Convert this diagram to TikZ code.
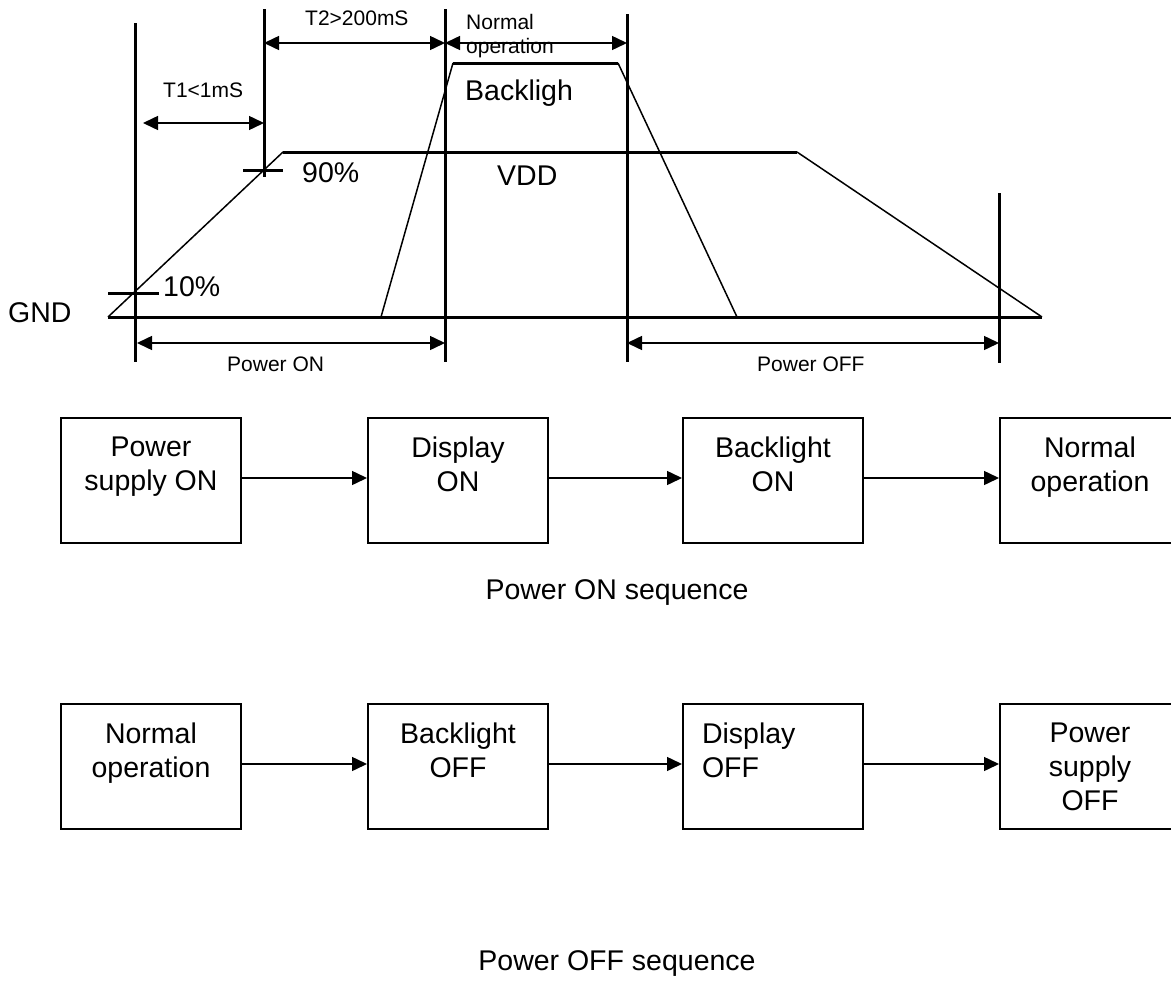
\documentclass[tikz,border=0pt]{standalone}
\usepackage{fontspec}
\setmainfont{Liberation Sans}
\usetikzlibrary{
  positioning,
  arrows.meta,
}
\newcommand\bigtxt{\fontsize{28.5}{34}\selectfont}
\newcommand\smalltxt{\fontsize{21}{23}\selectfont}
\newcommand\inbox[2][\centering]{\parbox[c][125pt][t]{180pt}{\vspace*{19pt}#1#2}}
\tikzset{
  vline/.style={line width=3pt},
  level/.style={line width=3pt},
  ramp/.style={line width=1.5pt},
  twohead/.style={line width=1.5pt,
    {Triangle[length=15pt,width=14pt]}-{Triangle[length=15pt,width=14pt]}},
  flow/.style={line width=1.5pt, -{Triangle[length=15pt,width=14pt]}},
  blk/.style={draw, line width=2pt, inner sep=0pt, anchor=north west, font=\bigtxt},
  tag/.style={inner sep=0pt, font=\bigtxt, anchor=base west},
  note/.style={inner sep=0pt, font=\smalltxt, anchor=base west},
}

\begin{document}
\begin{tikzpicture}[x=1pt, y=-1pt]
\clip (0,0) rectangle (1171,985);

% timing marks
\foreach \nm/\x/\ya/\yb in {m0/135/23/362, m1/264/9/177, m2/445/9/362,
                            m3/627/14/362, m4/999/193/363}
  \draw[vline] (\x,\ya) coordinate (\nm) -- (\x,\yb);

% GND, VDD and backlight
\draw[level] (108,317) -- (1042,317);
\draw[ramp] (108,317) -- (283,152) (797,152) -- (1042,317);
\draw[level] (283,152) -- (797,152);
\draw[ramp] (381,317) -- (453,63) (618,63) -- (737,317);
\draw[level] (453,63) -- (618,63);
\draw[level] (108,293) -- (159,293);
\draw[level] (243,170) -- (283,170);

\draw[twohead] ([xshift=8pt]m0 |- 0,123) -- (m1 |- 0,123);
\draw[twohead] (m1 |- 0,43) -- (m2 |- 0,43);
\draw[twohead] (m2 |- 0,43) -- (m3 |- 0,43);
\draw[twohead] ([xshift=2pt]m0 |- 0,343) -- (m2 |- 0,343);
\draw[twohead] (m3 |- 0,343) -- (m4 |- 0,343);

\node[tag] (gnd) at (8,322.7) {GND};
\node[tag] (p10) at (163,296) {10\%};
\node[tag] (p90) at (302,182) {90\%};
\node[tag] (bl) at (465,100) {Backligh};
\node[tag] (vdd) at (497,185) {VDD};
\node[note] (t1) at (163,97) {T1<1mS};
\node[note] (t2) at (305,25) {T2>200mS};
\node[note] (nop1) at (466,30) {Normal};
\node[note] (nop2) at (466,53) {operation};
\node[note] (pon) at (227,371) {Power ON};
\node[note] (poff) at (757,371) {Power OFF};

% power on sequence
\node[blk] (on1) at (60,417) {\inbox{Power\\supply ON}};
\node[blk] (on2) at (367,417) {\inbox{Display\\ON}};
\node[blk] (on3) at (682,417) {\inbox{Backlight\\ON}};
\node[blk] (on4) at (999,417) {\inbox{Normal\\operation}};
\foreach \a/\b in {on1/on2, on2/on3, on3/on4}
  \draw[flow] ([yshift=2.5pt]\a.east) -- ([yshift=2.5pt]\b.west);
\node[font=\bigtxt] (onseq) at (617,593) {Power ON sequence};

% power off sequence
\node[blk] (off1) at (60,703) {\inbox{Normal\\operation}};
\node[blk] (off2) at (367,703) {\inbox{Backlight\\OFF}};
\node[blk] (off3) at (682,703) {\inbox[\raggedright\leftskip=19pt]{Display\\OFF}};
\node[blk] (off4) at (999,703) {\inbox{Power\\supply\\OFF}};
\foreach \a/\b in {off1/off2, off2/off3, off3/off4}
  \draw[flow] ([yshift=2.5pt]\a.east) -- ([yshift=2.5pt]\b.west);
\node[font=\bigtxt] (offseq) at (617,963) {Power OFF sequence};
\end{tikzpicture}
\end{document}
